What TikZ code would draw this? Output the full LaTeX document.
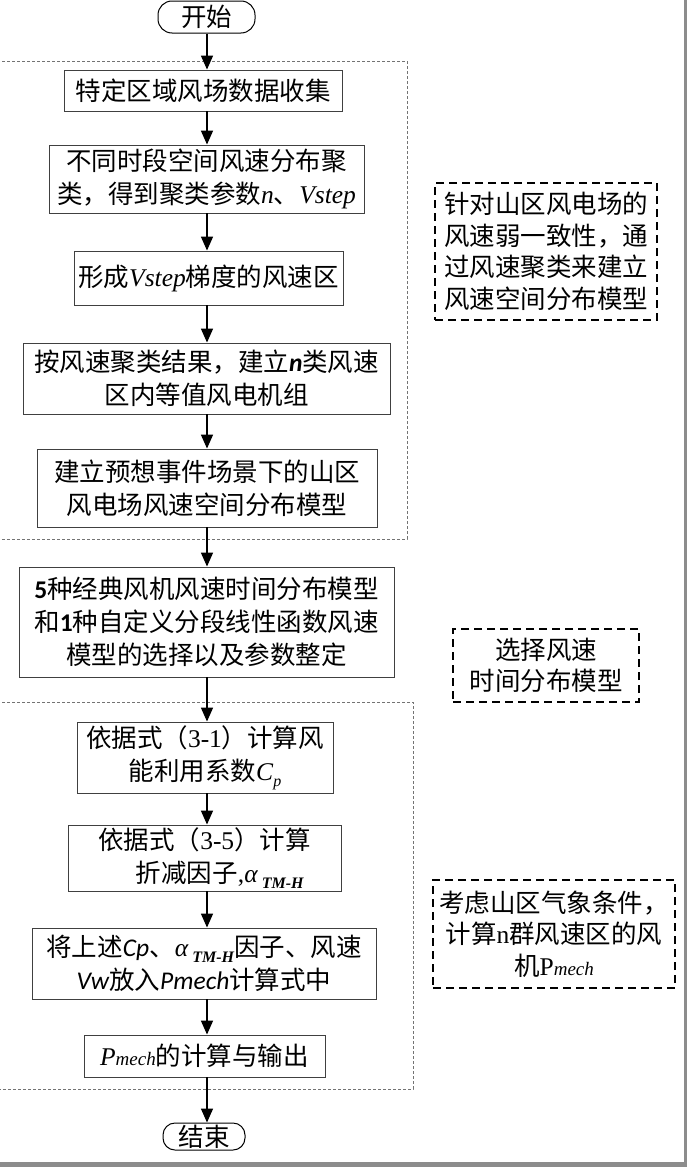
\documentclass[tikz,border=0pt]{standalone}
\usepackage{fontspec}
\setmainfont{Noto Sans CJK SC}
\newfontfamily\latf{Liberation Serif}
\newfontfamily\calib{Carlito}
\usetikzlibrary{arrows.meta}
\newcommand\lt[1]{{\latf\itshape #1}}
\newcommand\subsc[1]{\raisebox{-0.22em}{\fontsize{16}{16}\selectfont #1}}
\newcommand\smallsc[1]{{\fontsize{19}{19}\selectfont #1}}
\newcommand\atmh{{\latf\itshape α\,\subsc{\bfseries TM-H}}}
\begin{document}
\begin{tikzpicture}[x=1pt,y=-1pt,
  every node/.style={font=\fontsize{25.5}{33}\selectfont, inner sep=0pt, align=center},
  box/.style={draw=black!75, line width=0.9pt, fill=white},
  term/.style={draw=black, line width=1pt, rounded corners=14pt},
  grp/.style={draw=black!55, line width=0.7pt, dash pattern=on 3pt off 2pt},
  note/.style={draw=black, line width=1.5pt, dash pattern=on 8pt off 5pt, font=\fontsize{25.5}{31.5}\selectfont},
  arr/.style={line width=1.6pt, -{Triangle[length=14pt,width=12pt]}}]
\useasboundingbox (0,0) rectangle (687,1167);
% screenshot edges
\fill[black!45] (684,0) rectangle (687,1167);
\fill[black!45] (0,1162) rectangle (687,1167);
% groups
\draw[grp] (-5,61) rectangle (407,539);
\draw[grp] (-5,702) rectangle (413,1089);
\coordinate (ax) at (207,0);
% nodes
\node[term, minimum width=97pt, minimum height=32pt] (start) at (206.5,17) {开始};
\node[box, minimum width=278pt, minimum height=41pt] (b1) at (203,90.5) {特定区域风场数据收集};
\node[box, minimum width=315pt, minimum height=68pt] (b2) at (206.5,179) {不同时段空间风速分布聚\\类，得到聚类参数\lt{n}、\lt{Vstep}};
\node[box, minimum width=269pt, minimum height=54pt] (b3) at (208.5,278) {形成\lt{Vstep}梯度的风速区};
\node[box, minimum width=367pt, minimum height=71pt] (b4) at (206.5,378.5) {按风速聚类结果，建立{\calib\bfseries\itshape n}类风速\\区内等值风电机组};
\node[box, minimum width=340pt, minimum height=78pt] (b5) at (207,488) {建立预想事件场景下的山区\\风电场风速空间分布模型};
\node[box, minimum width=375pt, minimum height=110pt] (b6) at (206.5,622) {{\calib\bfseries 5}种经典风机风速时间分布模型\\和{\calib\bfseries 1}种自定义分段线性函数风速\\模型的选择以及参数整定};
\node[box, minimum width=256pt, minimum height=71pt] (b7) at (205,757.5) {依据式（{\latf 3-1}）计算风\\能利用系数\lt{C\subsc{p}}};
\node[box, minimum width=273pt, minimum height=66pt] (b8) at (204.5,858) {依据式（{\latf 3-5}）计算\\\hspace*{1.2em}折减因子{\latf ,}\atmh};
\node[box, minimum width=344pt, minimum height=71pt] (b9) at (204,963.5) {将上述{\calib\itshape Cp}、\atmh 因子、风速\\{\calib\itshape Vw}放入{\calib\itshape Pmech}计算式中};
\node[box, minimum width=241pt, minimum height=42pt] (b10) at (204.5,1056) {\lt{P\smallsc{mech}}的计算与输出};
\node[term, minimum width=82pt, minimum height=27pt, rounded corners=12pt] (end) at (204,1136.5) {结束};
% notes
\node[note, minimum width=222pt, minimum height=137pt] (n1) at (546,251.5) {针对山区风电场的\\风速弱一致性，通\\过风速聚类来建立\\风速空间分布模型};
\node[note, minimum width=186pt, minimum height=73pt] (n2) at (546,665.5) {选择风速\\时间分布模型};
\node[note, minimum width=242pt, minimum height=108pt] (n3) at (554,934) {考虑山区气象条件，\\计算{\latf n}群风速区的风\\机{\latf P\smallsc{\itshape mech}}};
% arrows
\draw[arr] (start.south -| ax) -- (b1.north -| ax);
\draw[arr] (b1.south -| ax) -- (b2.north -| ax);
\draw[arr] (b2.south -| ax) -- (b3.north -| ax);
\draw[arr] (b3.south -| ax) -- (b4.north -| ax);
\draw[arr] (b4.south -| ax) -- (b5.north -| ax);
\draw[arr] (b5.south -| ax) -- (b6.north -| ax);
\draw[arr] (b6.south -| ax) -- (b7.north -| ax);
\draw[arr] (b7.south -| ax) -- (b8.north -| ax);
\draw[arr] (b8.south -| ax) -- (b9.north -| ax);
\draw[arr] (b9.south -| ax) -- (b10.north -| ax);
\draw[arr] (b10.south -| ax) -- (end.north -| ax);
\end{tikzpicture}
\end{document}
